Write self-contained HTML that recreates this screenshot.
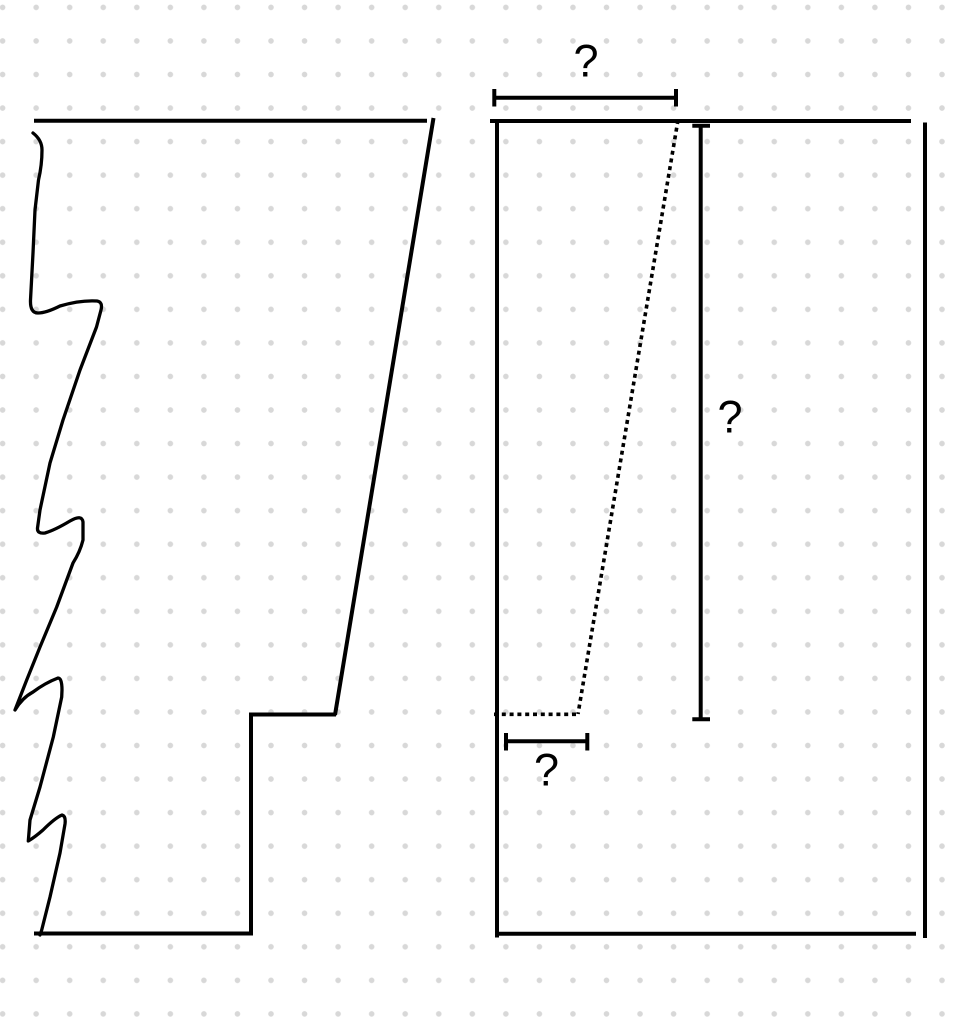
<!DOCTYPE html>
<html>
<head>
<meta charset="utf-8">
<style>
  html, body { margin: 0; padding: 0; background: #ffffff; }
  svg { display: block; }
  text { font-family: "Liberation Sans", Arial, sans-serif; font-size: 45px; fill: #000; }
</style>
</head>
<body>
<svg width="967" height="1030" viewBox="0 0 967 1030" xmlns="http://www.w3.org/2000/svg">
  <defs>
    <pattern id="dots" x="2.6" y="7.4" width="33.55" height="33.55" patternUnits="userSpaceOnUse">
      <circle cx="0" cy="0" r="2.8" fill="#d8d8d8"/>
      <circle cx="33.55" cy="0" r="2.8" fill="#d8d8d8"/>
      <circle cx="0" cy="33.55" r="2.8" fill="#d8d8d8"/>
      <circle cx="33.55" cy="33.55" r="2.8" fill="#d8d8d8"/>
    </pattern>
  </defs>
  <rect x="0" y="0" width="967" height="1030" fill="#ffffff"/>
  <rect x="0" y="0" width="967" height="1030" fill="url(#dots)"/>

  <!-- LEFT SHAPE -->
  <g stroke="#000" stroke-width="4" fill="none" stroke-linecap="butt">
    <line x1="34" y1="120.7" x2="427" y2="120.7"/>
    <line x1="433.5" y1="118" x2="335" y2="715"/>
    <line x1="249" y1="714.5" x2="336" y2="714.5"/>
    <line x1="251" y1="712.5" x2="251" y2="935.5"/>
    <line x1="34" y1="933.5" x2="253" y2="933.5"/>
  </g>
  <path d="M33,133
           Q42,140 42,150
           Q42,165 38.5,180
           L35,210 L33,253 L30.5,300
           Q30,313 38,313
           Q46,313 60,306
           Q80,300 97,301
           Q103,302 101,310
           L96.5,327 L80,370 L63,420 L50,463 L40,510
           L37.5,528
           Q37,534 45,533
           Q55,530 70,521
           Q82,514 83,522
           L83,540
           Q80,552 73,563
           L56.7,607 L40,647 L26.7,680 L15,710
           Q22,698 33,692
           Q45,683 58,678
           Q62,678 62,690
           L61.7,697 L53.3,737 L40,787 L30,820 L28.3,841
           Q35,837 43,830
           Q55,818 62,815
           Q66,816 65,824
           L60,853 L50,897 L41.7,930 L40,935"
        stroke="#000" stroke-width="3.3" fill="none" stroke-linecap="round" stroke-linejoin="round"/>

  <!-- RIGHT SHAPE -->
  <g stroke="#000" stroke-width="4" fill="none">
    <line x1="490" y1="121" x2="911" y2="121"/>
    <line x1="497" y1="120" x2="497" y2="937.5"/>
    <line x1="925" y1="122.5" x2="925" y2="938"/>
    <line x1="498" y1="933.7" x2="916" y2="933.7"/>
  </g>

  <!-- dotted lines -->
  <g stroke="#000" stroke-width="3.6" fill="none" stroke-dasharray="4 3.8">
    <line x1="678" y1="120" x2="578" y2="714"/>
    <line x1="494" y1="714.3" x2="578" y2="714.3"/>
  </g>

  <!-- dimension: top -->
  <g stroke="#000" stroke-width="4" fill="none">
    <line x1="494.3" y1="97.7" x2="676" y2="97.7"/>
    <line x1="494.3" y1="89" x2="494.3" y2="106.5"/>
    <line x1="676" y1="89" x2="676" y2="106.5"/>
  </g>
  <!-- dimension: vertical -->
  <g stroke="#000" stroke-width="4" fill="none">
    <line x1="700.7" y1="125.7" x2="700.7" y2="719.3"/>
    <line x1="692.3" y1="125.7" x2="710" y2="125.7"/>
    <line x1="692.3" y1="719.3" x2="710" y2="719.3"/>
  </g>
  <!-- dimension: bottom -->
  <g stroke="#000" stroke-width="4" fill="none">
    <line x1="506" y1="741.3" x2="587.3" y2="741.3"/>
    <line x1="506" y1="733" x2="506" y2="750.5"/>
    <line x1="587.3" y1="733" x2="587.3" y2="750.5"/>
  </g>

  <text x="586" y="76.7" text-anchor="middle">?</text>
  <text x="730" y="432.7" text-anchor="middle">?</text>
  <text x="546.5" y="785.3" text-anchor="middle">?</text>
</svg>
</body>
</html>
